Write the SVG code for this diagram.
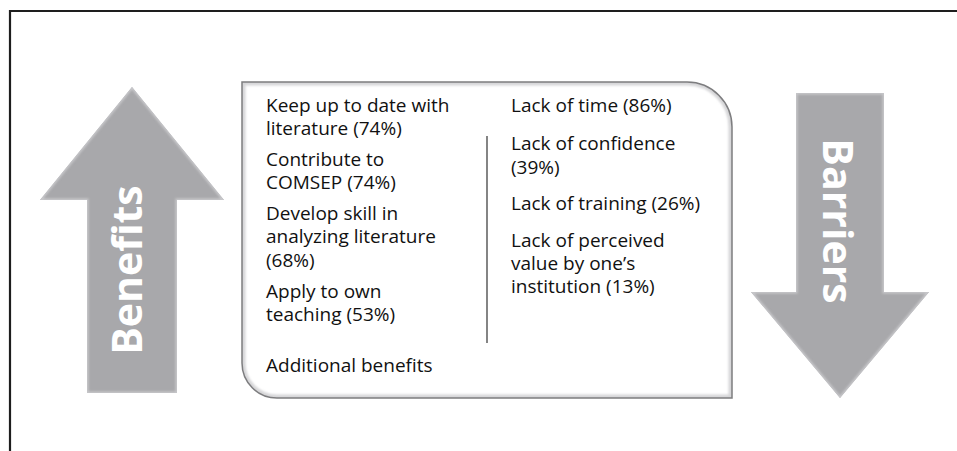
<svg xmlns="http://www.w3.org/2000/svg" width="957" height="451" viewBox="0 0 957 451">
  <style>
    .item { font-family: "Open Sans", "Liberation Sans", sans-serif; font-size: 19px; fill: #111111; }
    .big { font-family: "Open Sans", "Liberation Sans", sans-serif; font-size: 41px; font-weight: bold; fill: #ffffff; text-anchor: middle; }
    .arrow { fill: #a8a8ab; }
    .bevel { fill: none; stroke: #c9c9cc; stroke-width: 3; }
    .rule { stroke: #333333; stroke-width: 1.2; }
  </style>
  <defs>
    <filter id="soft" x="-5%" y="-5%" width="110%" height="110%">
      <feGaussianBlur stdDeviation="1.2"/>
    </filter>
    <clipPath id="clipUp">
      <polygon points="132,87 224,200 177,200 177,393 87,393 87,200 40,200"/>
    </clipPath>
    <clipPath id="clipDown">
      <polygon points="796,93 884,93 884,292 929,292 840,398 751,292 796,292"/>
    </clipPath>
    <clipPath id="clipBox">
      <path d="M242,82 H687 A45,45 0 0 1 732,127 V398 H277 A35,35 0 0 1 242,363 Z"/>
    </clipPath>
  </defs>

  <rect width="957" height="451" fill="#ffffff"/>

  <!-- outer frame (only top and left edges fall inside the view) -->
  <path d="M10,451 V11 H957" fill="none" stroke="#1e1e1e" stroke-width="2.2"/>

  <!-- Benefits arrow -->
  <g id="benefits">
    <polygon class="arrow" points="132,87 224,200 177,200 177,393 87,393 87,200 40,200"/>
    <polygon class="bevel" clip-path="url(#clipUp)" filter="url(#soft)" points="132,87 224,200 177,200 177,393 87,393 87,200 40,200"/>
    <text class="big" transform="translate(142,270) rotate(-90)">Benefits</text>
  </g>

  <!-- Barriers arrow -->
  <g id="barriers">
    <polygon class="arrow" points="796,93 884,93 884,292 929,292 840,398 751,292 796,292"/>
    <polygon class="bevel" clip-path="url(#clipDown)" filter="url(#soft)" points="796,93 884,93 884,292 929,292 840,398 751,292 796,292"/>
    <text class="big" transform="translate(823,221) rotate(90)">Barriers</text>
  </g>

  <!-- central panel with both lists -->
  <g id="panel">
    <path d="M242,82 H687 A45,45 0 0 1 732,127 V398 H277 A35,35 0 0 1 242,363 Z" fill="#ffffff"/>
    <path d="M242,82 H687 A45,45 0 0 1 732,127 V398 H277 A35,35 0 0 1 242,363 Z" fill="none" stroke="#d6d6d8" stroke-width="7" clip-path="url(#clipBox)" filter="url(#soft)"/>
    <path d="M242,82 H687 A45,45 0 0 1 732,127 V398 H277 A35,35 0 0 1 242,363 Z" fill="none" stroke="#7d7d7f" stroke-width="1.5"/>
    <line class="rule" x1="487" y1="136" x2="487" y2="343"/>

    <g id="benefit-list">
      <text class="item" x="266" y="112">Keep up to date with</text>
      <text class="item" x="266" y="135">literature (74%)</text>
      <text class="item" x="266" y="166">Contribute to</text>
      <text class="item" x="266" y="189">COMSEP (74%)</text>
      <text class="item" x="266" y="220">Develop skill in</text>
      <text class="item" x="266" y="243">analyzing literature</text>
      <text class="item" x="266" y="267">(68%)</text>
      <text class="item" x="266" y="298">Apply to own</text>
      <text class="item" x="266" y="321">teaching (53%)</text>
      <text class="item" x="266" y="372">Additional benefits</text>
    </g>

    <g id="barrier-list">
      <text class="item" x="511" y="112">Lack of time (86%)</text>
      <text class="item" x="511" y="150">Lack of confidence</text>
      <text class="item" x="511" y="174">(39%)</text>
      <text class="item" x="511" y="210">Lack of training (26%)</text>
      <text class="item" x="511" y="247">Lack of perceived</text>
      <text class="item" x="511" y="270">value by one’s</text>
      <text class="item" x="511" y="293">institution (13%)</text>
    </g>
  </g>
</svg>
